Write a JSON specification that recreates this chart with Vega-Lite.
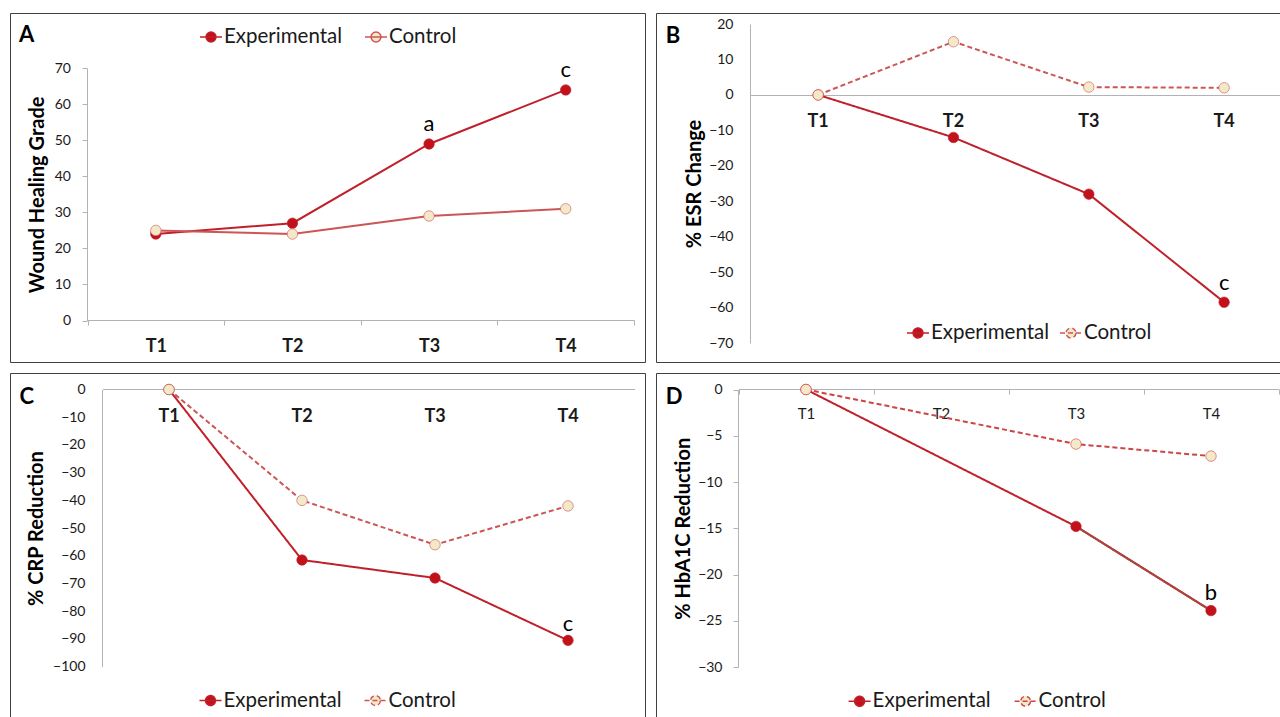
{
  "$schema": "https://vega.github.io/schema/vega-lite/v6.json",
  "background": "white",
  "padding": {"left": 9, "top": 12, "right": 0, "bottom": 0},
  "autosize": {"type": "pad"},
  "config": {
    "font": "Lato",
    "view": {"stroke": "#404040", "strokeWidth": 1},
    "axis": {"domainColor": "#b3b3b3", "tickColor": "#b3b3b3", "labelColor": "#1a1a1a", "labelFont": "Lato", "titleFont": "Lato", "titleColor": "#000000", "grid": false, "labelFontSize": 14},
    "legend": {"labelFont": "Lato", "labelColor": "#1a1a1a"}
  },
  "resolve": {
    "scale": {"stroke": "independent", "fill": "independent", "strokeDash": "independent"},
    "legend": {"stroke": "independent", "fill": "independent", "strokeDash": "independent"}
  },
  "bounds": "flush",
  "columns": 2,
  "spacing": {"row": 11, "column": 11},
  "concat": [
    {
      "width": 635, "height": 349,
      "title": {"text": "A", "anchor": "start", "frame": "group", "orient": "top", "offset": 0, "baseline": "alphabetic", "dx": 9, "dy": 51.4, "fontSize": 22, "fontWeight": "bold", "color": "#000000"},
      "data": {"values": [
        {"time": "T1", "group": "Experimental", "value": 24, "sig": ""},
        {"time": "T2", "group": "Experimental", "value": 27, "sig": ""},
        {"time": "T3", "group": "Experimental", "value": 49, "sig": "a"},
        {"time": "T4", "group": "Experimental", "value": 64, "sig": "c"},
        {"time": "T1", "group": "Control", "value": 25, "sig": ""},
        {"time": "T2", "group": "Control", "value": 24, "sig": ""},
        {"time": "T3", "group": "Control", "value": 29, "sig": ""},
        {"time": "T4", "group": "Control", "value": 31, "sig": ""}
      ]},
      "encoding": {
        "x": {"field": "time", "type": "nominal", "scale": {"type": "band", "domain": ["T1", "T2", "T3", "T4"], "range": [77.5, 624], "paddingInner": 0, "paddingOuter": 0},
          "axis": {"orient": "bottom", "offset": -42, "title": null, "labelAngle": 0, "tickBand": "extent", "ticks": true, "tickSize": 5, "labelFontSize": 18, "labelFontWeight": "bold", "labelPadding": 12}},
        "y": {"field": "value", "type": "quantitative", "scale": {"domain": [0, 70], "range": [307.5, 55.3], "nice": false, "zero": false},
          "axis": {"offset": -77, "values": [0, 10, 20, 30, 40, 50, 60, 70], "ticks": true, "tickSize": 5, "labelPadding": 11.5, "title": "Wound Healing Grade", "titleFontSize": 20, "titleFontWeight": "bold", "titlePadding": 7}}
      },
      "layer": [
        {"mark": {"type": "line", "strokeWidth": 2},
          "encoding": {"stroke": {"field": "group", "type": "nominal", "scale": {"domain": ["Experimental", "Control"], "range": ["#c0202a", "#cc5555"]},
            "legend": {"orient": "none", "legendX": 189, "legendY": 11.7, "direction": "horizontal", "title": null, "padding": 0, "symbolType": "M-1,0L1,0M0.45,0A0.45,0.45,0,1,1,-0.45,0A0.45,0.45,0,1,1,0.45,0Z", "symbolSize": 484, "symbolStrokeWidth": 1.5, "labelFontSize": 20.5, "labelOffset": 1, "columnPadding": 19}}}},
        {"mark": {"type": "point", "shape": "circle", "filled": true, "size": 110, "strokeWidth": 1, "opacity": 1, "strokeOpacity": 0.6},
          "encoding": {
            "fill": {"field": "group", "type": "nominal", "scale": {"domain": ["Experimental", "Control"], "range": ["#c1121c", "#f3e9c9"]},
              "legend": {"orient": "none", "legendX": 189, "legendY": 11.7, "direction": "horizontal", "title": null, "padding": 0, "symbolType": "M-1,0L1,0M0.45,0A0.45,0.45,0,1,1,-0.45,0A0.45,0.45,0,1,1,0.45,0Z", "symbolSize": 484, "symbolStrokeWidth": 1.5, "labelFontSize": 20.5, "labelOffset": 1, "columnPadding": 19}},
            "stroke": {"field": "group", "type": "nominal", "scale": {"domain": ["Experimental", "Control"], "range": ["#c0202a", "#cc5555"]},
              "legend": {"orient": "none", "legendX": 189, "legendY": 11.7, "direction": "horizontal", "title": null, "padding": 0, "symbolType": "M-1,0L1,0M0.45,0A0.45,0.45,0,1,1,-0.45,0A0.45,0.45,0,1,1,0.45,0Z", "symbolSize": 484, "symbolStrokeWidth": 1.5, "labelFontSize": 20.5, "labelOffset": 1, "columnPadding": 19}}
          }},
        {"mark": {"type": "text", "dy": -12.5, "baseline": "alphabetic", "fontSize": 22, "color": "#000000"},
          "transform": [{"filter": "datum.sig != ''"}],
          "encoding": {"text": {"field": "sig"}}}
      ]
    },
    {
      "width": 640, "height": 349,
      "title": {"text": "B", "anchor": "start", "frame": "group", "orient": "top", "offset": 0, "baseline": "alphabetic", "dx": 9.7, "dy": 52.4, "fontSize": 22, "fontWeight": "bold", "color": "#000000"},
      "data": {"values": [
        {"time": "T1", "group": "Experimental", "value": 0, "sig": ""},
        {"time": "T2", "group": "Experimental", "value": -12, "sig": ""},
        {"time": "T3", "group": "Experimental", "value": -28, "sig": ""},
        {"time": "T4", "group": "Experimental", "value": -58.5, "sig": "c"},
        {"time": "T1", "group": "Control", "value": 0, "sig": ""},
        {"time": "T2", "group": "Control", "value": 15, "sig": ""},
        {"time": "T3", "group": "Control", "value": 2.2, "sig": ""},
        {"time": "T4", "group": "Control", "value": 2, "sig": ""}
      ]},
      "encoding": {
        "x": {"field": "time", "type": "nominal", "scale": {"type": "band", "domain": ["T1", "T2", "T3", "T4"], "range": [94.5, 635.8], "paddingInner": 0, "paddingOuter": 0},
          "axis": {"orient": "bottom", "offset": -267, "title": null, "labelAngle": 0, "ticks": false, "labelFontSize": 18, "labelFontWeight": "bold", "labelPadding": 17}},
        "y": {"field": "value", "type": "quantitative", "scale": {"domain": [-70, 20], "range": [330, 11], "nice": false, "zero": false},
          "axis": {"offset": -94, "values": [-70, -60, -50, -40, -30, -20, -10, 0, 10, 20], "ticks": false, "labelPadding": 17, "title": "% ESR Change", "titleFontSize": 20, "titleFontWeight": "bold", "titlePadding": 4.5}}
      },
      "layer": [
        {"mark": {"type": "line", "strokeWidth": 2},
          "encoding": {
            "stroke": {"field": "group", "type": "nominal", "scale": {"domain": ["Experimental", "Control"], "range": ["#c0202a", "#cc5555"]},
              "legend": {"orient": "none", "legendX": 250, "legendY": 307.7, "direction": "horizontal", "title": null, "padding": 0, "symbolType": "M-1,0L1,0M0.45,0A0.45,0.45,0,1,1,-0.45,0A0.45,0.45,0,1,1,0.45,0Z", "symbolSize": 484, "symbolStrokeWidth": 1.5, "labelFontSize": 20.5, "labelOffset": 1, "columnPadding": 7}},
            "strokeDash": {"field": "group", "type": "nominal", "scale": {"domain": ["Experimental", "Control"], "range": [[1, 0], [5, 3]]}, "legend": null}}},
        {"mark": {"type": "point", "shape": "circle", "filled": true, "size": 110, "strokeWidth": 1, "opacity": 1, "strokeOpacity": 0.6},
          "encoding": {
            "fill": {"field": "group", "type": "nominal", "scale": {"domain": ["Experimental", "Control"], "range": ["#c1121c", "#f3e9c9"]},
              "legend": {"orient": "none", "legendX": 250, "legendY": 307.7, "direction": "horizontal", "title": null, "padding": 0, "symbolType": "M-1,0L1,0M0.45,0A0.45,0.45,0,1,1,-0.45,0A0.45,0.45,0,1,1,0.45,0Z", "symbolSize": 484, "symbolStrokeWidth": 1.5, "labelFontSize": 20.5, "labelOffset": 1, "columnPadding": 7}},
            "stroke": {"field": "group", "type": "nominal", "scale": {"domain": ["Experimental", "Control"], "range": ["#c0202a", "#cc5555"]},
              "legend": {"orient": "none", "legendX": 250, "legendY": 307.7, "direction": "horizontal", "title": null, "padding": 0, "symbolType": "M-1,0L1,0M0.45,0A0.45,0.45,0,1,1,-0.45,0A0.45,0.45,0,1,1,0.45,0Z", "symbolSize": 484, "symbolStrokeWidth": 1.5, "labelFontSize": 20.5, "labelOffset": 1, "columnPadding": 7}}
          }},
        {"mark": {"type": "text", "dy": -12.5, "baseline": "alphabetic", "fontSize": 22, "color": "#000000"},
          "transform": [{"filter": "datum.sig != ''"}],
          "encoding": {"text": {"field": "sig"}}}
      ]
    },
    {
      "width": 635, "height": 350,
      "title": {"text": "C", "anchor": "start", "frame": "group", "orient": "top", "offset": 0, "baseline": "alphabetic", "dx": 9.5, "dy": 52.6, "fontSize": 22, "fontWeight": "bold", "color": "#000000"},
      "data": {"values": [
        {"time": "T1", "group": "Experimental", "value": 0, "sig": ""},
        {"time": "T2", "group": "Experimental", "value": -61.5, "sig": ""},
        {"time": "T3", "group": "Experimental", "value": -68, "sig": ""},
        {"time": "T4", "group": "Experimental", "value": -90.5, "sig": "c"},
        {"time": "T1", "group": "Control", "value": 0, "sig": ""},
        {"time": "T2", "group": "Control", "value": -40, "sig": ""},
        {"time": "T3", "group": "Control", "value": -56, "sig": ""},
        {"time": "T4", "group": "Control", "value": -42, "sig": ""}
      ]},
      "encoding": {
        "x": {"field": "time", "type": "nominal", "scale": {"type": "band", "domain": ["T1", "T2", "T3", "T4"], "range": [92.5, 624.5], "paddingInner": 0, "paddingOuter": 0},
          "axis": {"orient": "bottom", "offset": -334, "title": null, "labelAngle": 0, "ticks": false, "labelFontSize": 18, "labelFontWeight": "bold", "labelPadding": 18}},
        "y": {"field": "value", "type": "quantitative", "scale": {"domain": [-100, 0], "range": [293.7, 16.5], "nice": false, "zero": false},
          "axis": {"offset": -92, "values": [-100, -90, -80, -70, -60, -50, -40, -30, -20, -10, 0], "ticks": false, "labelPadding": 17, "title": "% CRP Reduction", "titleFontSize": 20, "titleFontWeight": "bold", "titlePadding": 6}}
      },
      "layer": [
        {"mark": {"type": "line", "strokeWidth": 2},
          "encoding": {
            "stroke": {"field": "group", "type": "nominal", "scale": {"domain": ["Experimental", "Control"], "range": ["#c0202a", "#cc5555"]},
              "legend": {"orient": "none", "legendX": 188.5, "legendY": 315.3, "direction": "horizontal", "title": null, "padding": 0, "symbolType": "M-1,0L1,0M0.45,0A0.45,0.45,0,1,1,-0.45,0A0.45,0.45,0,1,1,0.45,0Z", "symbolSize": 484, "symbolStrokeWidth": 1.5, "labelFontSize": 20.5, "labelOffset": 1, "columnPadding": 19}},
            "strokeDash": {"field": "group", "type": "nominal", "scale": {"domain": ["Experimental", "Control"], "range": [[1, 0], [5, 3]]}, "legend": null}}},
        {"mark": {"type": "point", "shape": "circle", "filled": true, "size": 110, "strokeWidth": 1, "opacity": 1, "strokeOpacity": 0.6},
          "encoding": {
            "fill": {"field": "group", "type": "nominal", "scale": {"domain": ["Experimental", "Control"], "range": ["#c1121c", "#f3e9c9"]},
              "legend": {"orient": "none", "legendX": 188.5, "legendY": 315.3, "direction": "horizontal", "title": null, "padding": 0, "symbolType": "M-1,0L1,0M0.45,0A0.45,0.45,0,1,1,-0.45,0A0.45,0.45,0,1,1,0.45,0Z", "symbolSize": 484, "symbolStrokeWidth": 1.5, "labelFontSize": 20.5, "labelOffset": 1, "columnPadding": 19}},
            "stroke": {"field": "group", "type": "nominal", "scale": {"domain": ["Experimental", "Control"], "range": ["#c0202a", "#cc5555"]},
              "legend": {"orient": "none", "legendX": 188.5, "legendY": 315.3, "direction": "horizontal", "title": null, "padding": 0, "symbolType": "M-1,0L1,0M0.45,0A0.45,0.45,0,1,1,-0.45,0A0.45,0.45,0,1,1,0.45,0Z", "symbolSize": 484, "symbolStrokeWidth": 1.5, "labelFontSize": 20.5, "labelOffset": 1, "columnPadding": 19}}
          }},
        {"mark": {"type": "text", "dy": -9, "baseline": "alphabetic", "fontSize": 22, "color": "#000000"},
          "transform": [{"filter": "datum.sig != ''"}],
          "encoding": {"text": {"field": "sig"}}}
      ]
    },
    {
      "width": 640, "height": 350,
      "title": {"text": "D", "anchor": "start", "frame": "group", "orient": "top", "offset": 0, "baseline": "alphabetic", "dx": 9.7, "dy": 52.6, "fontSize": 22, "fontWeight": "bold", "color": "#000000"},
      "data": {"values": [
        {"time": "T1", "group": "Experimental", "value": 0, "sig": ""},
        {"time": "T3", "group": "Experimental", "value": -14.8, "sig": ""},
        {"time": "T4", "group": "Experimental", "value": -23.9, "sig": "b"},
        {"time": "T1", "group": "Control", "value": 0, "sig": ""},
        {"time": "T3", "group": "Control", "value": -5.9, "sig": ""},
        {"time": "T4", "group": "Control", "value": -7.2, "sig": ""}
      ]},
      "encoding": {
        "x": {"field": "time", "type": "nominal", "scale": {"type": "band", "domain": ["T1", "T2", "T3", "T4"], "range": [82.5, 622.5], "paddingInner": 0, "paddingOuter": 0},
          "axis": {"orient": "bottom", "offset": -334, "title": null, "labelAngle": 0, "tickBand": "extent", "ticks": true, "tickSize": 5, "labelFontSize": 15, "labelFontWeight": "normal", "labelPadding": 12}},
        "y": {"field": "value", "type": "quantitative", "scale": {"domain": [-30, 0], "range": [294, 16.5], "nice": false, "zero": false},
          "axis": {"offset": -82, "values": [-30, -25, -20, -15, -10, -5, 0], "ticks": true, "tickSize": 5, "labelPadding": 11, "title": "% HbA1C Reduction", "titleFontSize": 20, "titleFontWeight": "bold", "titlePadding": 4}}
      },
      "layer": [
        {"mark": {"type": "line", "strokeWidth": 2},
          "encoding": {
            "stroke": {"field": "group", "type": "nominal", "scale": {"domain": ["Experimental", "Control"], "range": ["#c0202a", "#cc4444"]},
              "legend": {"orient": "none", "legendX": 191.6, "legendY": 316, "direction": "horizontal", "title": null, "padding": 0, "symbolType": "M-1,0L1,0M0.45,0A0.45,0.45,0,1,1,-0.45,0A0.45,0.45,0,1,1,0.45,0Z", "symbolSize": 484, "symbolStrokeWidth": 1.5, "labelFontSize": 20.5, "labelOffset": 1, "columnPadding": 20}},
            "strokeDash": {"field": "group", "type": "nominal", "scale": {"domain": ["Experimental", "Control"], "range": [[1, 0], [5, 3]]}, "legend": null}}},
        {"mark": {"type": "line", "strokeWidth": 2, "color": "#a8463f"},
          "transform": [{"filter": "datum.group == 'Experimental' && (datum.time == 'T3' || datum.time == 'T4')"}],
          "encoding": {}},
        {"mark": {"type": "point", "shape": "circle", "filled": true, "size": 110, "strokeWidth": 1, "opacity": 1, "strokeOpacity": 0.6},
          "encoding": {
            "fill": {"field": "group", "type": "nominal", "scale": {"domain": ["Experimental", "Control"], "range": ["#c1121c", "#f3e9c9"]},
              "legend": {"orient": "none", "legendX": 191.6, "legendY": 316, "direction": "horizontal", "title": null, "padding": 0, "symbolType": "M-1,0L1,0M0.45,0A0.45,0.45,0,1,1,-0.45,0A0.45,0.45,0,1,1,0.45,0Z", "symbolSize": 484, "symbolStrokeWidth": 1.5, "labelFontSize": 20.5, "labelOffset": 1, "columnPadding": 20}},
            "stroke": {"field": "group", "type": "nominal", "scale": {"domain": ["Experimental", "Control"], "range": ["#c0202a", "#cc4444"]},
              "legend": {"orient": "none", "legendX": 191.6, "legendY": 316, "direction": "horizontal", "title": null, "padding": 0, "symbolType": "M-1,0L1,0M0.45,0A0.45,0.45,0,1,1,-0.45,0A0.45,0.45,0,1,1,0.45,0Z", "symbolSize": 484, "symbolStrokeWidth": 1.5, "labelFontSize": 20.5, "labelOffset": 1, "columnPadding": 20}}
          }},
        {"mark": {"type": "text", "dy": -11, "baseline": "alphabetic", "fontSize": 22, "color": "#000000"},
          "transform": [{"filter": "datum.sig != ''"}],
          "encoding": {"text": {"field": "sig"}}}
      ]
    }
  ]
}
